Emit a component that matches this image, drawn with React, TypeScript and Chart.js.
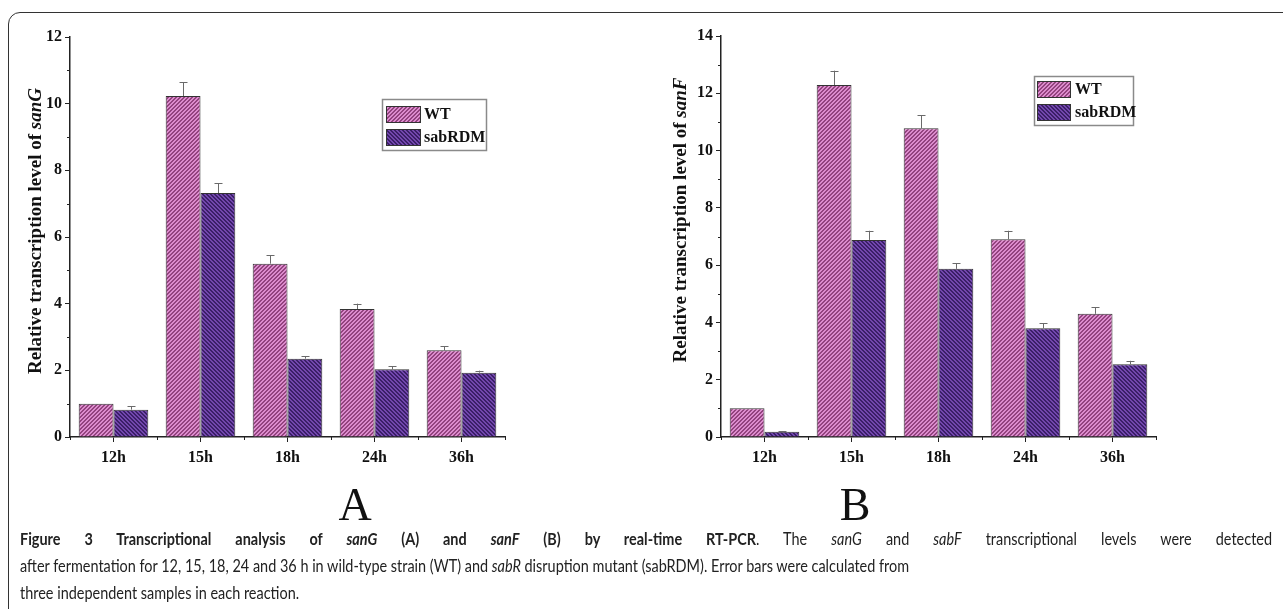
import React, { useEffect, useRef } from "react";
import { Chart, registerables } from "chart.js";

Chart.register(...registerables);

// ---------- data ----------
const categories = ["12h", "15h", "18h", "24h", "36h"];
const seriesNames = ["WT", "sabRDM"];

const sanG_WT = [1.0, 10.23, 5.2, 3.84, 2.6];
const sanG_WT_err = [0.0, 0.42, 0.25, 0.16, 0.13];
const sanG_DM = [0.82, 7.32, 2.35, 2.03, 1.93];
const sanG_DM_err = [0.1, 0.29, 0.08, 0.09, 0.06];

const sanF_WT = [1.0, 12.29, 10.78, 6.9, 4.3];
const sanF_WT_err = [0.0, 0.5, 0.46, 0.3, 0.23];
const sanF_DM = [0.18, 6.88, 5.87, 3.8, 2.54];
const sanF_DM_err = [0.03, 0.32, 0.19, 0.17, 0.12];

const yTicksA = [0, 2, 4, 6, 8, 10, 12];
const yTicksB = [0, 2, 4, 6, 8, 10, 12, 14];

const SERIF = "'Liberation Serif', 'Times New Roman', serif";

function makePattern(light: string, dark: string, forward: boolean): CanvasPattern | string {
  const c = document.createElement("canvas");
  c.width = 8;
  c.height = 8;
  const g = c.getContext("2d");
  if (!g) return light;
  g.fillStyle = light;
  g.fillRect(0, 0, 8, 8);
  g.fillStyle = dark;
  for (let x = 0; x < 8; x++) {
    for (let y = 0; y < 8; y++) {
      const k = forward ? (x + y) % 4 : ((x - y) % 4 + 4) % 4;
      if (k === 0 || k === 1) g.fillRect(x, y, 1, 1);
    }
  }
  const p = g.createPattern(c, "repeat");
  return p || light;
}

type Cfg = {
  wt: number[];
  wtErr: number[];
  dm: number[];
  dmErr: number[];
  max: number;
  yTicks: number[];
  yAxisWidth: number;
  padRight: number;
  padTop: number;
  xAxisHeight: number;
  titleParts: { t: string; italic: boolean }[];
  titleX: number;
  titleY: number;
  legend: { x0: number; y0: number; x1: number; y1: number; sx: number; sw: number; rows: [number, number][]; tx: number };
};

function BarChart({ cfg, width, height }: { cfg: Cfg; width: number; height: number }) {
  const ref = useRef<HTMLCanvasElement | null>(null);
  useEffect(() => {
    if (!ref.current) return;
    const pWT = makePattern("#dc8ccd", "#93437f", true);
    const pDM = makePattern("#7347ae", "#3b1f68", false);
    const fills = [pWT, pDM];
    const errs = [cfg.wtErr, cfg.dmErr];

    const extras = {
      id: "extras",
      afterDraw(chart: any) {
        const ctx = chart.ctx as CanvasRenderingContext2D;
        const ys = chart.scales.y;
        const xs = chart.scales.x;
        const area = chart.chartArea;
        ctx.save();
        // error bars
        ctx.strokeStyle = "#6a6a6a";
        ctx.lineWidth = 1;
        chart.data.datasets.forEach((ds: any, i: number) => {
          const meta = chart.getDatasetMeta(i);
          meta.data.forEach((bar: any, j: number) => {
            const e = errs[i][j];
            if (!e) return;
            const top = ys.getPixelForValue(ds.data[j] + e);
            const x = Math.round(bar.x) + 0.5;
            ctx.beginPath();
            ctx.moveTo(x, bar.y);
            ctx.lineTo(x, top);
            ctx.moveTo(x - 4, Math.round(top) + 0.5);
            ctx.lineTo(x + 4, Math.round(top) + 0.5);
            ctx.stroke();
          });
        });
        // minor y ticks
        ctx.strokeStyle = "#222";
        ctx.lineWidth = 1;
        for (let v = 1; v < cfg.max; v += 2) {
          const y = Math.round(ys.getPixelForValue(v)) + 0.5;
          ctx.beginPath();
          ctx.moveTo(area.left, y);
          ctx.lineTo(area.left - 3, y);
          ctx.stroke();
        }
        // minor x ticks at category boundaries
        const n = categories.length;
        for (let k = 0; k <= n; k++) {
          const x = Math.round(xs.left + (k * (xs.right - xs.left)) / n) + 0.5;
          ctx.beginPath();
          ctx.moveTo(x, area.bottom);
          ctx.lineTo(x, area.bottom + 3);
          ctx.stroke();
        }
        // y title with italic gene name
        ctx.fillStyle = "#111";
        ctx.textBaseline = "middle";
        const fonts = cfg.titleParts.map((p) => (p.italic ? "italic bold 19px " : "bold 19px ") + SERIF);
        let total = 0;
        const widths = cfg.titleParts.map((p, i) => {
          ctx.font = fonts[i];
          const w = ctx.measureText(p.t).width;
          total += w;
          return w;
        });
        ctx.translate(cfg.titleX, cfg.titleY);
        ctx.rotate(-Math.PI / 2);
        let pos = -total / 2;
        cfg.titleParts.forEach((p, i) => {
          ctx.font = fonts[i];
          ctx.textAlign = "left";
          ctx.fillText(p.t, pos, 0);
          pos += widths[i];
        });
        ctx.restore();

        // legend
        const L = cfg.legend;
        ctx.save();
        ctx.strokeStyle = "#8a8a8a";
        ctx.lineWidth = 1.5;
        ctx.strokeRect(L.x0 + 0.5, L.y0 + 0.5, L.x1 - L.x0, L.y1 - L.y0);
        L.rows.forEach((r, i) => {
          ctx.fillStyle = fills[i] as any;
          ctx.fillRect(L.sx, r[0], L.sw, r[1] - r[0]);
          ctx.strokeStyle = "#333";
          ctx.lineWidth = 1;
          ctx.strokeRect(L.sx + 0.5, r[0] + 0.5, L.sw, r[1] - r[0]);
          ctx.fillStyle = "#111";
          ctx.font = "bold 16px " + SERIF;
          ctx.textAlign = "left";
          ctx.textBaseline = "middle";
          ctx.fillText(seriesNames[i], L.tx, (r[0] + r[1]) / 2 + 1);
        });
        ctx.restore();
      },
    };

    const chart = new Chart(ref.current, {
      type: "bar",
      data: {
        labels: categories,
        datasets: [
          { label: seriesNames[0], data: cfg.wt, backgroundColor: pWT as any, borderColor: "#333", borderWidth: 1 },
          { label: seriesNames[1], data: cfg.dm, backgroundColor: pDM as any, borderColor: "#333", borderWidth: 1 },
        ],
      },
      options: {
        animation: false,
        responsive: false,
        maintainAspectRatio: false,
        events: [],
        layout: { padding: { left: 0, right: cfg.padRight, top: cfg.padTop, bottom: 0 } },
        datasets: { bar: { categoryPercentage: 0.8, barPercentage: 1.0 } },
        plugins: { legend: { display: false }, tooltip: { enabled: false }, title: { display: false } },
        scales: {
          x: {
            type: "category",
            offset: true,
            grid: { offset: false, drawOnChartArea: false, drawTicks: true, tickLength: 5, color: "#222", lineWidth: 1 },
            border: { display: true, color: "#222", width: 1.5 },
            ticks: { color: "#111", font: { family: SERIF, size: 16, weight: "bold" }, padding: 6, maxRotation: 0 },
            afterFit: (s: any) => {
              s.height = cfg.xAxisHeight;
            },
          },
          y: {
            min: 0,
            max: cfg.max,
            afterBuildTicks: (s: any) => {
              s.ticks = cfg.yTicks.map((v) => ({ value: v }));
            },
            grid: { drawOnChartArea: false, drawTicks: true, tickLength: 5, color: "#222", lineWidth: 1 },
            border: { display: true, color: "#222", width: 1.5 },
            ticks: { color: "#111", font: { family: SERIF, size: 16, weight: "bold" }, padding: 3, autoSkip: false },
            afterFit: (s: any) => {
              s.width = cfg.yAxisWidth;
            },
          },
        },
      },
      plugins: [extras],
    } as any);
    return () => chart.destroy();
  }, [cfg]);
  return <canvas ref={ref} width={width} height={height} style={{ width, height, display: "block" }} />;
}

const cfgA: Cfg = {
  wt: sanG_WT,
  wtErr: sanG_WT_err,
  dm: sanG_DM,
  dmErr: sanG_DM_err,
  max: 12,
  yTicks: yTicksA,
  yAxisWidth: 70,
  padRight: 135,
  padTop: 37,
  xAxisHeight: 43,
  titleParts: [
    { t: "Relative transcription level of ", italic: false },
    { t: "sanG", italic: true },
  ],
  titleX: 36,
  titleY: 231,
  legend: { x0: 382, y0: 99, x1: 486, y1: 150, sx: 386, sw: 34, rows: [[106, 122], [129, 145]], tx: 424 },
};

const cfgB: Cfg = {
  wt: sanF_WT,
  wtErr: sanF_WT_err,
  dm: sanF_DM,
  dmErr: sanF_DM_err,
  max: 14,
  yTicks: yTicksB,
  yAxisWidth: 81,
  padRight: 127,
  padTop: 36,
  xAxisHeight: 43,
  titleParts: [
    { t: "Relative transcription level of ", italic: false },
    { t: "sanF", italic: true },
  ],
  titleX: 41,
  titleY: 220,
  legend: { x0: 394, y0: 76, x1: 493, y1: 125, sx: 397, sw: 33, rows: [[81, 97], [104, 120]], tx: 435 },
};

const CAP_SCALE = 0.85;

export default function App() {
  const cap: React.CSSProperties = {
    position: "absolute",
    left: 20,
    width: 1252 / CAP_SCALE,
    fontFamily: "Lato, 'Open Sans', sans-serif",
    fontSize: 17,
    color: "#222",
    whiteSpace: "nowrap",
    lineHeight: "22px",
    transform: `scaleX(${CAP_SCALE})`,
    transformOrigin: "left top",
  };
  return (
    <div style={{ position: "absolute", left: 0, top: 0, width: 1283, height: 609, overflow: "hidden", background: "#fff" }}>
      <div
        style={{
          position: "absolute",
          left: 8,
          top: 12,
          width: 1300,
          height: 620,
          border: "1.5px solid #333",
          borderRadius: 12,
          boxSizing: "border-box",
        }}
      />
      <div style={{ position: "absolute", left: 0, top: 0 }}>
        <BarChart cfg={cfgA} width={640} height={480} />
      </div>
      <div style={{ position: "absolute", left: 640, top: 0 }}>
        <BarChart cfg={cfgB} width={643} height={480} />
      </div>
      <div style={{ position: "absolute", left: 355, top: 480, transform: "translateX(-50%)", fontFamily: SERIF, fontSize: 46, lineHeight: "50px", color: "#111" }}>A</div>
      <div style={{ position: "absolute", left: 855, top: 480, transform: "translateX(-50%)", fontFamily: SERIF, fontSize: 46, lineHeight: "50px", color: "#111" }}>B</div>
      <div style={{ ...cap, top: 528, textAlign: "justify", textAlignLast: "justify" }}>
        <b>Figure 3 Transcriptional analysis of <i>sanG</i> (A) and <i>sanF</i> (B) by real-time RT-PCR</b>. The <i>sanG</i> and <i>sabF</i> transcriptional levels were detected
      </div>
      <div style={{ ...cap, top: 555 }}>
        after fermentation for 12, 15, 18, 24 and 36 h in wild-type strain (WT) and <i>sabR</i> disruption mutant (sabRDM). Error bars were calculated from
      </div>
      <div style={{ ...cap, top: 582 }}>three independent samples in each reaction.</div>
    </div>
  );
}
